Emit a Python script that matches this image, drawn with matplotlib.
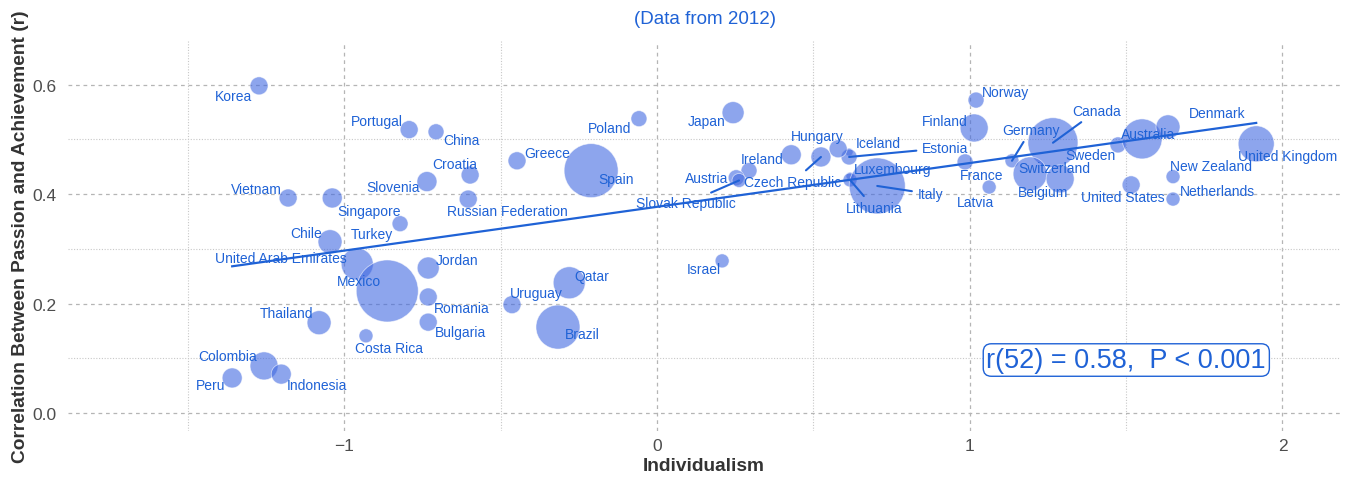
import numpy as np
import matplotlib
matplotlib.use("Agg")
import matplotlib.pyplot as plt

plt.rcParams['font.family'] = ['Liberation Sans', 'DejaVu Sans']

# datos
countries = ["Korea", "Portugal", "China", "Poland", "Greece", "Spain", "Croatia", "Slovenia",
             "Russian Federation", "Vietnam", "Singapore", "Turkey", "Chile", "United Arab Emirates",
             "Mexico", "Jordan", "Romania", "Bulgaria", "Thailand", "Costa Rica", "Colombia", "Peru",
             "Indonesia", "Uruguay", "Qatar", "Brazil", "Japan", "Ireland", "Austria", "Slovak Republic",
             "Hungary", "Czech Republic", "Iceland", "Estonia", "Luxembourg", "Lithuania", "Italy",
             "Norway", "Finland", "France", "Latvia", "Germany", "Canada", "Switzerland", "Belgium",
             "Sweden", "Australia", "Denmark", "United Kingdom", "United States", "New Zealand",
             "Netherlands", "Israel", ""]
individualism = [-1.273, -0.793, -0.707, -0.058, -0.448, -0.211, -0.598, -0.736,
                 -0.604, -1.180, -1.039, -0.822, -1.046, -0.959,
                 -0.863, -0.732, -0.732, -0.732, -1.081, -0.931, -1.257, -1.359,
                 -1.202, -0.464, -0.281, -0.317, 0.243, 0.294, 0.253, 0.262,
                 0.429, 0.524, 0.614, 0.614, 0.617, 0.617, 0.704,
                 1.020, 1.014, 0.985, 1.062, 1.135, 1.266, 1.193, 1.289,
                 1.474, 1.551, 1.634, 1.916, 1.516, 1.650,
                 1.650, 0.208, 0.579]
correlation = [0.598, 0.518, 0.514, 0.538, 0.461, 0.443, 0.435, 0.423,
               0.391, 0.393, 0.393, 0.346, 0.313, 0.272,
               0.223, 0.265, 0.212, 0.166, 0.165, 0.141, 0.086, 0.064,
               0.071, 0.198, 0.238, 0.157, 0.549, 0.443, 0.430, 0.425,
               0.472, 0.468, 0.477, 0.468, 0.433, 0.426, 0.415,
               0.572, 0.521, 0.459, 0.413, 0.461, 0.494, 0.437, 0.428,
               0.490, 0.501, 0.523, 0.492, 0.417, 0.432,
               0.391, 0.278, 0.483]
bubble = [9, 9, 8, 8, 9, 27, 9, 10,
          9, 9, 10, 8, 12, 16,
          31, 11, 9, 9, 12, 7, 14, 10,
          10, 9, 16, 22, 11, 8, 8, 7,
          10, 10, 4, 8, 4, 7, 28,
          8, 14, 8, 7, 7, 25, 17, 14,
          8, 20, 12, 18, 9, 7,
          7, 7, 9]

# posicion de etiquetas (pixeles respecto al punto) y si llevan linea
label_off = {
    "Korea": (-26, -10), "Portugal": (-32, 9), "China": (25, -8), "Poland": (-29, -9),
    "Greece": (30, 8), "Spain": (25, -8), "Croatia": (-15, 11), "Slovenia": (-34, -5),
    "Russian Federation": (39, -12), "Vietnam": (-32, 9), "Singapore": (37, -13),
    "Turkey": (-28, -10), "Chile": (-24, 9), "United Arab Emirates": (-76, 6),
    "Mexico": (-28, 10), "Jordan": (29, 8), "Romania": (34, -11), "Bulgaria": (32, -10),
    "Thailand": (-33, 10), "Costa Rica": (23, -12), "Colombia": (-36, 10), "Peru": (-22, -7),
    "Indonesia": (36, -11), "Uruguay": (24, 12), "Qatar": (23, 7), "Brazil": (24, -7),
    "Japan": (-26, -8), "Ireland": (13, 12), "Austria": (-30, 0), "Slovak Republic": (-53, -23),
    "Hungary": (26, 19), "Czech Republic": (-28, -25), "Iceland": (29, 9), "Estonia": (96, 9),
    "Luxembourg": (43, 7), "Lithuania": (24, -28), "Italy": (53, -8), "Norway": (29, 8),
    "Finland": (-29, 7), "France": (17, -13), "Latvia": (-14, -15), "Germany": (19, 31),
    "Canada": (44, 32), "Switzerland": (24, 6), "Belgium": (-17, -13), "Sweden": (-28, -10),
    "Australia": (6, 5), "Denmark": (49, 14), "United Kingdom": (31, -12),
    "United States": (-8, -12), "New Zealand": (38, 11), "Netherlands": (44, 8),
    "Israel": (-18, -8),
}
con_linea = ["Slovak Republic", "Czech Republic", "Estonia", "Lithuania", "Italy", "Germany", "Canada"]

azul = "#1f62d6"
x = np.array(individualism)
y = np.array(correlation)

fig = plt.figure(figsize=(13.51, 4.81), dpi=100)
ax = fig.add_axes([68/1351, 1-432/481, 1272/1351, 390/481])

ax.scatter(x, y, s=(2*np.array(bubble)*0.72)**2, color="#4169E1", alpha=0.6,
           edgecolors="white", linewidths=0.6, zorder=2)

# recta de regresion
m, b = np.polyfit(x, y, 1)
xs = np.array([x.min(), x.max()])
ax.plot(xs, m*xs + b, color=azul, lw=1.6, zorder=3)

for i, nombre in enumerate(countries):
    if nombre == "":
        continue
    dx, dy = label_off[nombre]
    props = None
    if nombre in con_linea:
        props = dict(arrowstyle="-", color=azul, lw=1.5, shrinkA=2, shrinkB=0)
    ax.annotate(nombre, (x[i], y[i]), xytext=(dx, dy), textcoords="offset pixels",
                ha="center", va="center", fontsize=10, color=azul, arrowprops=props, zorder=4)

ax.text(0.832, 0.182, "r(52) = 0.58,  P < 0.001", transform=ax.transAxes, ha="center", va="center",
        fontsize=19.5, color=azul,
        bbox=dict(boxstyle="round,pad=0.12,rounding_size=0.3", fc="white", ec=azul, lw=1), zorder=5)

ax.set_xlim(-1.884, 2.184)
ax.set_ylim(-0.033, 0.680)
ax.set_xticks([-1, 0, 1, 2])
ax.set_xticklabels(["\u22121", "0", "1", "2"])
ax.set_yticks([0.0, 0.2, 0.4, 0.6])
ax.set_yticklabels(["0.0", "0.2", "0.4", "0.6"])
ax.set_xticks([-1.5, -0.5, 0.5, 1.5], minor=True)
ax.set_yticks([0.1, 0.3, 0.5], minor=True)
ax.grid(which="major", color="#b5b5b5", ls=(0, (3, 3)), lw=0.9)
ax.grid(which="minor", color="#c8c8c8", ls=(0, (1, 1.5)), lw=0.8)
ax.set_axisbelow(True)
for s in ax.spines.values():
    s.set_visible(False)
ax.tick_params(which="both", length=0, labelsize=12.5, labelcolor="#4d4d4d")
ax.tick_params(axis="y", pad=8)
ax.tick_params(axis="x", pad=5)

ax.set_xlabel("Individualism", fontsize=13.8, fontweight="bold", color="#333333", labelpad=3)
ax.set_ylabel("Correlation Between Passion and Achievement (r)", fontsize=13.8,
              fontweight="bold", color="#333333", labelpad=3)
fig.text(705/1351, 1-19/481, "(Data from 2012)", ha="center", va="center", fontsize=13.5, color=azul)

fig.savefig("out.png", dpi=100)
